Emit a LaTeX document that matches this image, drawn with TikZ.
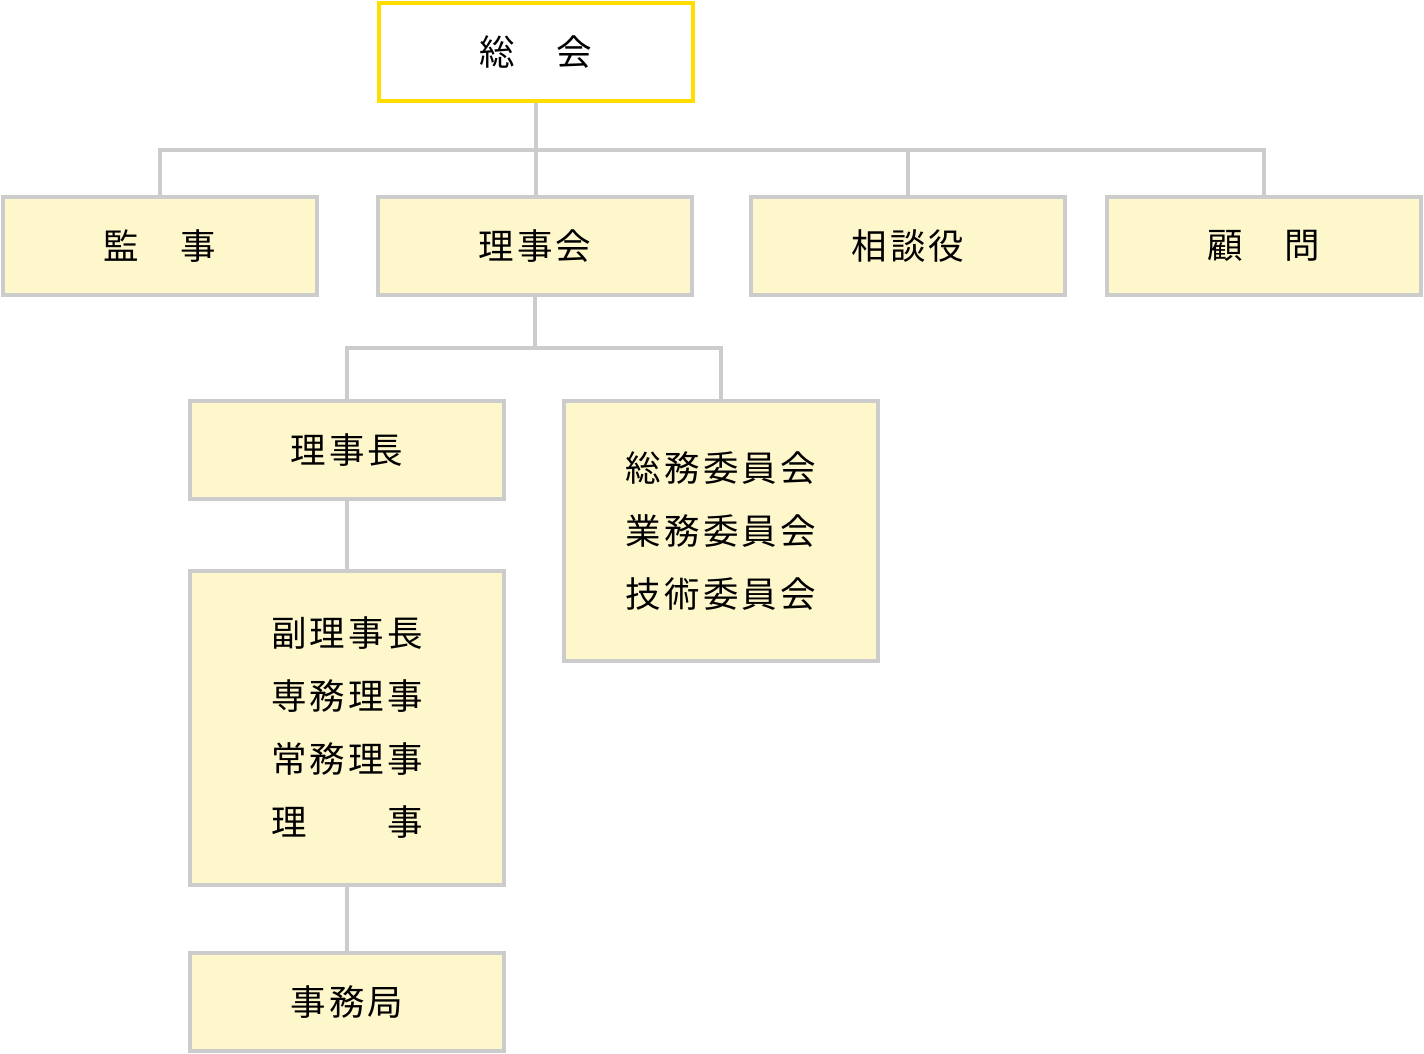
\documentclass[tikz,border=0pt]{standalone}
\usepackage{fontspec}
\setmainfont{Noto Sans CJK JP}[LetterSpace=9]
\usepackage{tikz}
\usetikzlibrary{positioning}

\definecolor{orgfill}{HTML}{FFF7CC}
\definecolor{orgline}{HTML}{CCCCCC}
\definecolor{orgtop}{HTML}{FFDD00}

\begin{document}
\begin{tikzpicture}[
    x=1pt, y=-1pt,
    orgbox/.style={draw=orgline, line width=4pt, fill=orgfill,
                   minimum width=314pt, minimum height=98pt, inner sep=0pt,
                   align=center, font=\fontsize{35.5}{63}\selectfont},
    topbox/.style={orgbox, draw=orgtop, fill=white},
    link/.style={draw=orgline, line width=4pt},
]
\useasboundingbox (0,0) rectangle (1424,1054);

% Top level
\node[topbox] (soukai) at (536,52) {総　会};

% Second row
\node[orgbox] (kanji) at (160,246) {監　事};
\node[orgbox] (rijikai) at (535,246) {理事会};
\node[orgbox] (soudan) at (908,246) {相談役};
\node[orgbox] (komon) at (1264,246) {顧　問};

% Under the board
\node[orgbox] (rijichou) at (347,450) {理事長};
\node[orgbox, minimum height=260pt] (iinkai) at (721,531) {総務委員会\\業務委員会\\技術委員会};
\node[orgbox, minimum height=314pt, below=68pt of rijichou] (yakuin) {副理事長\\専務理事\\常務理事\\理　　事};
\node[orgbox, below=64pt of yakuin] (jimu) {事務局};

% Connectors
\coordinate (bus1) at (536,150);
\draw[link] (soukai.south) -- (bus1);
\draw[link] (kanji.north) |- (bus1) -| (komon.north);
\draw[link] (bus1) -- (bus1 |- rijikai.north);
\draw[link] (soudan.north) -- (soudan.north |- bus1);

\coordinate (bus2) at (535,348);
\draw[link] (rijikai.south) -- (bus2);
\draw[link] (rijichou.north) |- (bus2) -| (iinkai.north);
\draw[link] (rijichou.south) -- (yakuin.north);
\draw[link] (yakuin.south) -- (jimu.north);

\end{tikzpicture}
\end{document}
